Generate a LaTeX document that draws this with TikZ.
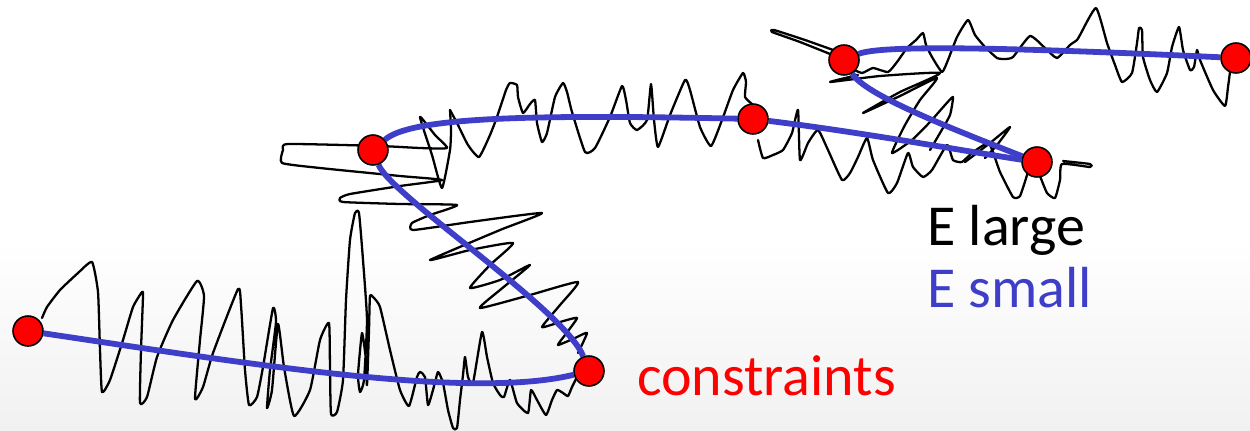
\documentclass[tikz,border=0pt]{standalone}
\usepackage{fontspec}
\setmainfont{Carlito}
\usepackage{tikz}
\usetikzlibrary{positioning}

\definecolor{eblue}{RGB}{62,62,200}
\definecolor{bggrey}{RGB}{241,241,241}

\pgfdeclarelayer{back}
\pgfdeclarelayer{lines}
\pgfsetlayers{back,lines,main}

\begin{document}
\begin{tikzpicture}[
  x=0.02cm, y=-0.02cm,
  dot/.style={circle, draw=black, line width=0.9pt, fill=red, minimum size=0.6cm, inner sep=0pt},
  eline/.style={draw=eblue, line width=3.3pt},
  jag/.style={draw=black, line width=1.3pt, line join=round, line cap=round},
  lbl/.style={font=\fontsize{33}{40}\selectfont, inner sep=0pt, anchor=base west}
]
  \useasboundingbox (0,0) rectangle (1250,430);

  % constraint points
  \node[dot] (c1) at (28,331) {};
  \node[dot] (c2) at (589,371) {};
  \node[dot] (c3) at (373,150) {};
  \node[dot] (c4) at (753,119) {};
  \node[dot] (c5) at (1037,162) {};
  \node[dot] (c6) at (844,60) {};
  \node[dot] (c7) at (1236,58) {};

  % labels
  \node[lbl] (large) at (927,245) {E large};
  \node[lbl, text=eblue] (small) at (927,307) {E small};
  \node[lbl, text=red] (cons) at (637,395) {constraints};

  \begin{pgfonlayer}{back}
    \fill[white] (0,0) rectangle (1250,430);
    \shade[top color=white, bottom color=bggrey] (0,240) rectangle (1250,430);
  \end{pgfonlayer}

  \begin{pgfonlayer}{lines}
    % large E: noisy path
    \draw[jag] plot[smooth, tension=0.3] coordinates {
      (42,318) (47,307) (60,290) (78,273) (92,262) (98,292) (100,350) (102,392)
      (110,380) (123,340) (133,307) (142,292) (143,296) (141,350) (140,403)
      (147,397) (157,357) (173,320) (197,281) (204,296) (200,340) (195,399)
      (203,387) (213,353) (238,289) (241,305) (245,370) (249,405) (257,397)
      (263,367) (273,308) (276,322) (270,370) (267,408) (272,390) (278,324)
      (284,367) (294,416) (310,390) (320,340) (329,323) (330,370) (331,414)
      (337,412) (343,380) (346,300) (350,240) (355,213) (359,213) (363,260)
      (367,320) (364,380) (360,392) (358,375) (362,333) (366,360) (367,385)
      (369,330) (370,296) (374,298) (380,307) (390,350) (400,390) (409,406)
      (417,377) (420,372) (425,377) (428,405) (433,390) (438,372) (443,383)
      (448,410) (453,428) (457,428) (460,400) (463,375) (465,357) (468,377)
      (473,383) (482,332) (487,357) (493,383) (500,395) (504,397) (510,380)
      (517,403) (528,413) (531,390) (537,400) (546,415) (552,400) (557,390)
      (563,393) (568,396) (572,387) (577,377)};
    \draw[jag] plot[smooth, tension=0.3] coordinates {
      (450,110) (451,130) (450,150) (442,188) (432,155) (420,117) (435,135)
      (447,148) (420,148) (380,146) (288,144) (283,150) (282,163) (320,168)
      (400,176) (442,180) (400,186) (350,194) (340,198) (343,202) (400,204)
      (457,205) (430,215) (412,223) (413,230) (470,222) (542,213) (500,230)
      (430,260) (470,250) (513,243) (490,265) (470,288) (500,280) (530,265)
      (500,290) (480,308) (530,295) (578,282) (560,305) (542,327) (560,322)
      (577,318) (565,335) (558,345) (575,338) (587,333) (578,353)};
    \draw[jag] plot[smooth, tension=0.3] coordinates {
      (450,110) (457,123) (468,145) (479,157) (490,135) (497,117) (506,90)
      (510,83) (517,85) (518,97) (523,113) (530,104) (535,100) (537,123)
      (542,142) (547,133) (555,97) (563,83) (567,92) (572,112) (585,152)
      (595,148) (610,117) (622,86) (626,100) (630,123) (637,130) (647,120)
      (651,84) (654,120) (658,147) (670,115) (685,80) (690,90) (700,127)
      (711,146) (722,120) (733,90) (743,73) (746,82) (745,97) (752,104)};
    \draw[jag] plot[smooth, tension=0.3] coordinates {
      (758,140) (763,158) (773,155) (783,150) (792,133) (798,110) (800,160)
      (808,143) (818,130) (828,150) (842,180) (850,173) (858,157) (867,138)
      (873,160) (888,193) (897,183) (908,153) (913,167) (923,177) (932,170)
      (947,145) (953,160) (962,162) (973,152) (988,143) (993,152) (1000,172)
      (1013,197) (1020,196) (1027,175) (1028,168)};
    \draw[jag] plot[smooth, tension=0.3] coordinates {
      (1040,176) (1047,193) (1055,198) (1060,180) (1062,164) (1090,167)
      (1090,164) (1063,161)};
    \draw[jag] plot[smooth, tension=0.3] coordinates {
      (840,58) (800,42) (772,32) (774,30) (805,40) (836,51)};
    \draw[jag] plot[smooth, tension=0.3] coordinates {
      (850,68) (862,73) (873,68) (888,72) (897,62) (907,48) (916,40) (923,33)
      (926,45) (932,57) (942,72) (948,60) (957,37) (968,20) (975,35) (985,47)
      (997,58) (1005,59) (1013,57) (1030,36) (1045,48) (1057,58) (1070,45)
      (1077,40) (1080,35) (1096,8) (1107,43) (1115,65) (1122,82) (1132,73)
      (1137,43) (1139,28) (1142,30) (1143,57) (1150,80) (1157,92) (1167,73)
      (1172,47) (1179,27) (1183,50) (1190,70) (1194,67) (1197,50) (1200,60)
      (1213,90) (1225,106) (1228,87) (1230,72)};
    \draw[jag] plot[smooth, tension=0.3] coordinates {
      (858,75) (830,82) (880,76) (940,73) (900,92) (863,113) (900,96) (937,78)
      (920,100) (905,125) (892,153) (912,140) (930,122) (945,105) (953,97)
      (950,115) (940,133) (930,150)};
    \draw[jag] plot[smooth, tension=0.3] coordinates {
      (965,162) (990,143) (1010,127) (997,145) (985,158)};

    % small E: smooth path
    \draw[eline] (c1) .. controls (250,364) and (470,400) .. (c2);
    \draw[eline] (c3) .. controls (390,195) and (565,310) .. (c2);
    \draw[eline] (c3) .. controls (410,118) and (520,114) .. (c4);
    \draw[eline] (c4) .. controls (860,132) and (970,152) .. (c5);
    \draw[eline] (c6) .. controls (865,95) and (950,128) .. (c5);
    \draw[eline] (c6) .. controls (880,45) and (1000,47) .. (c7);
  \end{pgfonlayer}
\end{tikzpicture}
\end{document}
